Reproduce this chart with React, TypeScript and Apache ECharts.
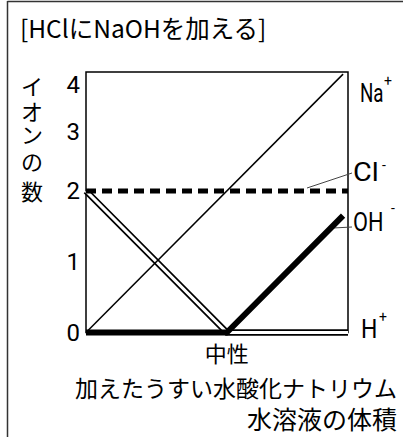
import React, { useEffect, useRef } from "react";
import * as echarts from "echarts";

// ---- data ----
const naX = [0, 3.65];
const naY = [0, 3.65];
const clX = [0, 3.72];
const clY = [2, 2];
const hX = [0, 2, 3.72];
const hY = [2, 0, 0];
const ohX = [0, 2, 3.65];
const ohY = [0, 0, 1.65];
const yTickLabels = ["0", "1", "2", "3", "4"];
const neutralX = 2;
const neutralLabel = "中性";
const ionNames = ["Na", "Cl", "OH", "H"];
const ionCharges = ["+", "-", "-", "+"];
const title = "[HClにNaOHを加える]";
const yTitle = "イオンの数";
const xTitle1 = "加えたうすい水酸化ナトリウム";
const xTitle2 = "水溶液の体積";

const pts = (xs: number[], ys: number[]) => xs.map((x, i) => [x, ys[i]]);

const JP = '"Noto Sans CJK JP", sans-serif';
const LAT = 'Roboto, "Noto Sans", sans-serif';

export default function App() {
  const ref = useRef<HTMLDivElement>(null);
  useEffect(() => {
    if (!ref.current) return;
    const chart = echarts.init(ref.current, undefined, { renderer: "svg" });

    const ionPos = [
      { x: 360, y: 94, sc: 0.75, sx: 388, sy: 81 },
      { x: 353, y: 173, sc: 1.15, sx: 384, sy: 165 },
      { x: 353, y: 222, sc: 0.87, sx: 393, sy: 208 },
      { x: 361, y: 330, sc: 0.92, sx: 383, sy: 317 },
    ];
    const ionGraphics: any[] = [];
    ionNames.forEach((n, i) => {
      const p = ionPos[i];
      ionGraphics.push({
        type: "text",
        x: p.x,
        y: p.y,
        scaleX: p.sc,
        style: { text: n, font: `25px ${LAT}`, fill: "#000", textVerticalAlign: "middle", textAlign: "left" },
      });
      ionGraphics.push({
        type: "text",
        x: p.sx,
        y: p.sy,
        style: { text: ionCharges[i], font: `14px ${LAT}`, fill: "#000", textVerticalAlign: "middle", textAlign: "center" },
      });
    });

    const yTitleYs = [85, 110, 133, 160, 190];
    const yTitleGraphics = yTitle.split("").map((ch, i) => ({
      type: "text",
      x: 32,
      y: yTitleYs[i],
      style: { text: ch, font: `22px ${JP}`, lineHeight: 22, fill: "#000", textAlign: "center", textVerticalAlign: "middle" },
    }));

    const option: any = {
      animation: false,
      backgroundColor: "#fff",
      grid: { left: 86, right: 55, top: 72, bottom: 104.5, show: true, borderColor: "#000", borderWidth: 1.5, backgroundColor: "transparent" },
      xAxis: {
        type: "value",
        min: 0,
        max: 3.72,
        interval: 1,
        axisLine: { show: false },
        axisTick: { show: false },
        splitLine: { show: false },
        axisLabel: {
          show: true,
          margin: 8,
          showMaxLabel: false,
          formatter: (v: number) => (v === neutralX ? neutralLabel : ""),
          color: "#000",
          fontSize: 22,
          fontFamily: JP,
        },
      },
      yAxis: {
        type: "value",
        min: 0,
        max: 3.68,
        interval: 1,
        axisLine: { show: false },
        axisTick: { show: false },
        splitLine: { show: false },
        axisLabel: {
          margin: 6,
          showMaxLabel: false,
          formatter: (v: number) => (v === 3 ? "\n" + yTickLabels[3] : yTickLabels[v] ?? ""),
          lineHeight: 24,
          color: "#000",
          fontSize: 24,
          fontFamily: LAT,
        },
      },
      series: [
        {
          type: "line",
          data: pts(hX, hY),
          symbol: "none",
          clip: false,
          lineStyle: { color: "#000", width: 6.5, join: "miter" },
          z: 2,
        },
        {
          type: "line",
          data: pts(hX, hY),
          symbol: "none",
          clip: false,
          lineStyle: { color: "#fff", width: 3, join: "miter" },
          z: 3,
        },
        {
          type: "line",
          data: pts(naX, naY),
          symbol: "none",
          clip: false,
          lineStyle: { color: "#000", width: 1.5 },
          z: 4,
        },
        {
          type: "line",
          data: pts(ohX, ohY),
          symbol: "none",
          clip: false,
          lineStyle: { color: "#000", width: 6, join: "round" },
          z: 5,
        },
        {
          type: "line",
          data: pts(clX, clY),
          symbol: "none",
          clip: false,
          lineStyle: { color: "#000", width: 5, type: [10, 6] },
          z: 6,
        },
      ],
      graphic: [
        { type: "line", shape: { x1: 7.5, y1: 1.5, x2: 403, y2: 1.5 }, style: { stroke: "#333", lineWidth: 1.5 } },
        { type: "line", shape: { x1: 7.5, y1: 1, x2: 7.5, y2: 437 }, style: { stroke: "#333", lineWidth: 1.5 } },
        {
          type: "text",
          x: 20,
          y: 27,
          style: { text: title, font: `24.5px ${JP}`, fill: "#000", textVerticalAlign: "middle" },
        },
        ...yTitleGraphics,
        {
          type: "text",
          x: 80,
          y: 85,
          style: { text: yTickLabels[4], font: `24px ${LAT}`, fill: "#000", textAlign: "right", textVerticalAlign: "middle" },
        },
        { type: "line", shape: { x1: 307, y1: 188, x2: 352, y2: 173 }, style: { stroke: "#444", lineWidth: 1 } },
        { type: "line", shape: { x1: 333, y1: 228, x2: 352, y2: 227 }, style: { stroke: "#444", lineWidth: 1 } },
        ...ionGraphics,
        {
          type: "text",
          x: 397,
          y: 387,
          style: { text: xTitle1, font: `23px ${JP}`, fill: "#000", textAlign: "right", textVerticalAlign: "middle" },
        },
        {
          type: "text",
          x: 397,
          y: 418,
          style: { text: xTitle2, font: `25px ${JP}`, fill: "#000", textAlign: "right", textVerticalAlign: "middle" },
        },
      ],
    };
    chart.setOption(option);
    return () => chart.dispose();
  }, []);
  return <div ref={ref} style={{ position: "absolute", left: 0, top: 0, width: 403, height: 437 }} />;
}
